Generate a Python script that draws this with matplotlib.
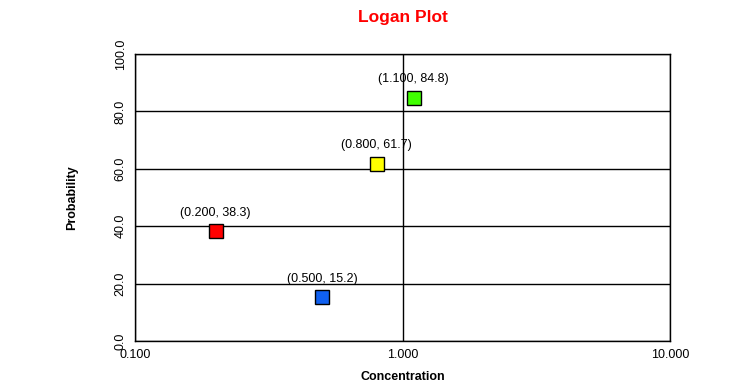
import matplotlib
matplotlib.use("Agg")
import matplotlib.pyplot as plt

plt.rcParams['font.family'] = ['Liberation Sans', 'DejaVu Sans']

# data
conc = [0.2, 0.5, 0.8, 1.1]
prob = [38.3, 15.2, 61.7, 84.8]
colors = ['#ff0000', '#1060f0', '#ffff00', '#40ff00']

fig = plt.figure(figsize=(7.56, 3.92), dpi=100)
ax = fig.add_axes([135/756, 51/392, 535/756, 287/392])

ax.set_xscale('log')
ax.set_xlim(0.1, 10)
ax.set_ylim(0, 100)

for x, y, c in zip(conc, prob, colors):
    ax.plot(x, y, marker='s', markersize=10, color=c, markeredgecolor='black',
            markeredgewidth=1, linestyle='none', zorder=3)
    ax.annotate('(%.3f, %.1f)' % (x, y), (x, y), xytext=(0, 9),
                textcoords='offset points', ha='center', va='bottom', fontsize=9)

xt = [0.1, 1, 10]
ax.set_xticks(xt)
ax.set_xticklabels(['%.3f' % v for v in xt], fontsize=9)
ax.minorticks_off()
yt = [0, 20, 40, 60, 80, 100]
ax.set_yticks(yt)
ax.set_yticklabels(['%.1f' % v for v in yt], fontsize=9, rotation=90, va='center')
ax.tick_params(length=0, pad=6)

ax.grid(True, color='black', linewidth=1)
ax.set_axisbelow(True)
for s in ax.spines.values():
    s.set_linewidth(1)

ax.set_title('Logan Plot', color='red', fontweight='bold', fontsize=12.5, pad=23)
ax.set_xlabel('Concentration', fontweight='bold', fontsize=9, labelpad=7)
ax.set_ylabel('Probability', fontweight='bold', fontsize=9, labelpad=26)

fig.savefig('out.png', dpi=100)
